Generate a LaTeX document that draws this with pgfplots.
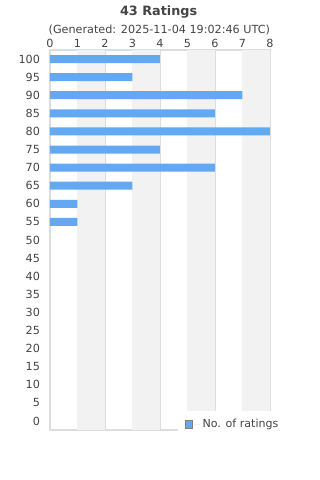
\documentclass[border=0pt]{standalone}
\usepackage{pgfplots}
\pgfplotsset{compat=1.18}
\usepackage{fontspec}
\setmainfont{DejaVu Sans}
\definecolor{barblue}{HTML}{62A8F3}
\definecolor{txt}{HTML}{444444}
\definecolor{band}{HTML}{F2F2F2}
\definecolor{gridc}{HTML}{DDDDDD}
\begin{document}
\begin{tikzpicture}[x=1pt,y=1pt]
\path[use as bounding box] (0,0) rectangle (240,360);
\node[font=\bfseries\fontsize{9.6}{11}\selectfont, text=txt] at (119,351.3) {43 Ratings};
\node[font=\fontsize{8.4}{9}\selectfont, text=txt] at (119.5,337.6) {(Generated: 2025-11-04 19:02:46 UTC)};
\begin{axis}[
  at={(37.5pt,37.5pt)}, anchor=south west,
  scale only axis, width=165pt, height=285pt,
  xmin=0, xmax=8, ymin=-2.5, ymax=102.5,
  xtick={0,...,8}, ytick={0,5,...,100},
  xticklabel pos=upper,
  major tick length=0pt,
  xmajorgrids, grid style={gridc, line width=0.6pt},
  axis line style={gridc, line width=0.8pt},
  tick label style={text=txt, font=\fontsize{8.4}{9}\selectfont},
  /pgf/number format/assume math mode=true,
  xticklabel style={yshift=-1.5pt},
  yticklabel style={xshift=-4pt},
  clip=false,
  legend style={at={(0.582,0.05)}, anchor=north west, draw=none, fill=white,
    font=\fontsize{8.3}{9}\selectfont, text=txt, inner xsep=5pt, inner ysep=4pt},
  legend image code/.code={\draw[fill=barblue, draw=gray, line width=0.5pt] (0pt,-2.8pt) rectangle (5.6pt,2.8pt);
    \path (0pt,0pt) -- (11pt,0pt);},
]
\fill[band] (axis cs:1,-2.5) rectangle (axis cs:2,102.5);
\fill[band] (axis cs:3,-2.5) rectangle (axis cs:4,102.5);
\fill[band] (axis cs:5,-2.5) rectangle (axis cs:6,102.5);
\fill[band] (axis cs:7,-2.5) rectangle (axis cs:8,102.5);
\addplot[xbar, bar width=6pt, fill=barblue, draw=none, bar shift=0pt] coordinates {
(4,100) (3,95) (7,90) (6,85) (8,80) (4,75) (6,70) (3,65) (1,60) (1,55)
};
\addlegendentry{No. of ratings}
\end{axis}
\end{tikzpicture}
\end{document}
